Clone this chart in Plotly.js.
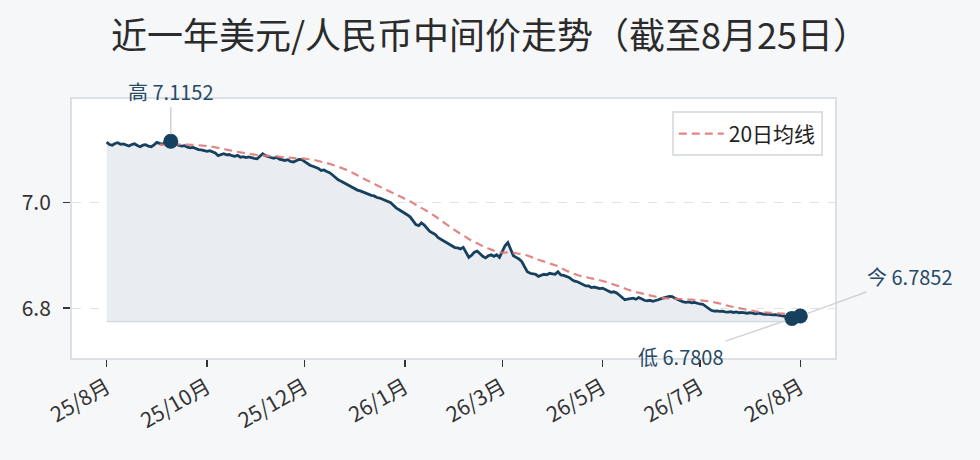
<!DOCTYPE html>
<html>
<head>
<meta charset="utf-8">
<script src="https://cdn.plot.ly/plotly-3.0.1.min.js"></script>
<style>html,body{margin:0;padding:0;background:#f6f7f9;}#chart{width:980px;height:460px;}</style>
</head>
<body>
<div id="chart"></div>
<script>
// ---- data (USD/CNY central parity, trading days 2025-08-25 .. 2026-08-25) ----
const rates = [
7.1135,7.1090,7.1078,7.1110,7.1125,7.1095,7.1102,7.1080,7.1062,7.1090,
7.1105,7.1072,7.1050,7.1078,7.1088,7.1060,7.1048,7.1085,7.1130,7.1112,
7.1098,7.1120,7.1140,7.1152,7.1110,7.1085,7.1072,7.1060,7.1068,7.1040,
7.1028,7.1035,7.1010,7.0995,7.0990,7.0970,7.0962,7.0975,7.0950,7.0930,
7.0880,7.0905,7.0918,7.0895,7.0902,7.0880,7.0868,7.0885,7.0850,7.0862,
7.0845,7.0858,7.0840,7.0830,7.0822,7.0870,7.0915,7.0880,7.0858,7.0845,
7.0830,7.0850,7.0815,7.0800,7.0790,7.0805,7.0770,7.0760,7.0790,7.0810,
7.0805,7.0770,7.0730,7.0700,7.0680,7.0660,7.0640,7.0600,7.0610,7.0580,
7.0560,7.0520,7.0470,7.0430,7.0400,7.0370,7.0350,7.0320,7.0290,7.0260,
7.0230,7.0215,7.0190,7.0170,7.0140,7.0130,7.0120,7.0090,7.0080,7.0060,
7.0040,7.0020,6.9990,6.9940,6.9890,6.9860,6.9830,6.9790,6.9760,6.9720,
6.9650,6.9580,6.9560,6.9610,6.9570,6.9500,6.9450,6.9420,6.9390,6.9330,
6.9300,6.9260,6.9230,6.9200,6.9170,6.9145,6.9140,6.9120,6.9150,6.9050,
6.8960,6.9000,6.9060,6.9080,6.9020,6.8980,6.8950,6.8990,6.9010,6.8980,
6.9010,6.8960,6.9070,6.9180,6.9240,6.9130,6.8990,6.8960,6.8930,6.8880,
6.8780,6.8690,6.8660,6.8650,6.8640,6.8600,6.8620,6.8640,6.8630,6.8660,
6.8650,6.8640,6.8690,6.8630,6.8620,6.8600,6.8580,6.8540,6.8510,6.8500,
6.8470,6.8450,6.8420,6.8420,6.8390,6.8400,6.8380,6.8370,6.8380,6.8350,
6.8330,6.8300,6.8310,6.8290,6.8250,6.8200,6.8160,6.8170,6.8180,6.8190,
6.8170,6.8200,6.8180,6.8150,6.8140,6.8150,6.8130,6.8140,6.8160,6.8180,
6.8190,6.8210,6.8225,6.8220,6.8190,6.8160,6.8140,6.8120,6.8110,6.8120,
6.8100,6.8110,6.8090,6.8080,6.8075,6.8040,6.7990,6.7960,6.7945,6.7950,
6.7940,6.7945,6.7930,6.7925,6.7935,6.7920,6.7930,6.7915,6.7920,6.7910,
6.7905,6.7915,6.7900,6.7895,6.7905,6.7890,6.7885,6.7890,6.7880,6.7875,
6.7880,6.7870,6.7865,6.7860,6.7840,6.7825,6.7808,6.7830,6.7845,6.7852
];
const tickIndex  = [0, 36, 71, 107, 142, 178, 213, 249];
const tickLabels = ['25/8月', '25/10月', '25/12月', '26/1月', '26/3月', '26/5月', '26/7月', '26/8月'];
const maWindow = 20;
const titleText = '近一年美元/人民币中间价走势（截至8月25日）';
const maName = '20日均线';

// ---- derived ----
const idx = rates.map((_, i) => i);
const ma = [], maX = [];
for (let i = maWindow - 1; i < rates.length; i++) {
  let s = 0; for (let j = i - maWindow + 1; j <= i; j++) s += rates[j];
  ma.push(s / maWindow); maX.push(i);
}
const maxV = Math.max(...rates), minV = Math.min(...rates);
const iMax = rates.indexOf(maxV), iMin = rates.indexOf(minV);
const iLast = rates.length - 1, lastV = rates[iLast];
const base = minV - 0.006;

const NAVY = '#17405e';
const FONT = '"Noto Sans CJK SC", "Noto Sans", sans-serif';

const traces = [
  { // filled area
    x: idx.concat([iLast, 0]), y: rates.concat([base, base]),
    type: 'scatter', mode: 'lines', fill: 'toself', fillcolor: '#e9edf2',
    line: {color: '#cfd5dc', width: 1.2}, showlegend: false, hoverinfo: 'skip'
  },
  {
    x: idx, y: rates, type: 'scatter', mode: 'lines',
    line: {color: NAVY, width: 2.8}, showlegend: false, hoverinfo: 'skip'
  },
  {
    x: maX, y: ma, type: 'scatter', mode: 'lines', name: maName,
    line: {color: 'rgba(222,120,120,0.9)', width: 2.2, dash: '8px,5px', shape: 'spline'},
    hoverinfo: 'skip'
  },
  {
    x: [iMax, iMin, iLast], y: [maxV, minV, lastV], type: 'scatter', mode: 'markers',
    marker: {color: NAVY, size: 15}, showlegend: false, hoverinfo: 'skip'
  }
];

const annBase = {xref: 'x', yref: 'y', showarrow: true, arrowhead: 0, arrowwidth: 1.5,
  arrowcolor: '#cfd3d8', font: {family: FONT, size: 20, color: '#264a66'}, standoff: 7};

const layout = {
  width: 980, height: 460,
  paper_bgcolor: '#f6f7f9', plot_bgcolor: '#ffffff',
  margin: {l: 72, r: 145, t: 99, b: 102},
  font: {family: FONT, color: '#333333'},
  title: {text: titleText, x: 0.5, xref: 'container', xanchor: 'center', y: 0.92, yanchor: 'middle',
          font: {family: FONT, size: 36, color: '#2b2b2b'}},
  showlegend: true,
  legend: {x: 0.984, y: 0.952, xanchor: 'right', yanchor: 'top', bgcolor: '#ffffff', itemwidth: 45,
           bordercolor: '#dcdfe3', borderwidth: 2, font: {family: FONT, size: 21, color: '#222'}},
  xaxis: {range: [-12.45, 261.45], tickmode: 'array', tickvals: tickIndex, ticktext: tickLabels,
          tickangle: -30, ticks: 'outside', ticklen: 7, tickwidth: 1.5, tickcolor: '#333',
          showgrid: false, zeroline: false, showline: true, mirror: true, linecolor: '#dcdfe3', linewidth: 2,
          tickfont: {family: FONT, size: 21, color: '#333'}},
  yaxis: {range: [6.706, 7.195], tickmode: 'array', tickvals: [6.8, 7.0], ticktext: ['6.8', '7.0'],
          ticks: 'outside', ticklen: 7, tickwidth: 1.5, tickcolor: '#333', ticklabelstandoff: 8,
          showgrid: true, gridcolor: '#dfe3e7', griddash: 'dash', gridwidth: 1,
          zeroline: false, showline: true, mirror: true, linecolor: '#dcdfe3', linewidth: 2,
          tickfont: {family: FONT, size: 21, color: '#333'}},
  annotations: [
    Object.assign({}, annBase, {x: iMax, y: maxV, text: '高 ' + maxV.toFixed(4), ax: 0, ay: -50}),
    Object.assign({}, annBase, {x: iMin, y: minV, text: '低 ' + minV.toFixed(4), ax: -111, ay: 38}),
    Object.assign({}, annBase, {x: iLast, y: lastV, text: '今 ' + lastV.toFixed(4), ax: 110, ay: -40})
  ]
};

Plotly.newPlot('chart', traces, layout, {staticPlot: true, displayModeBar: false});
</script>
</body>
</html>
